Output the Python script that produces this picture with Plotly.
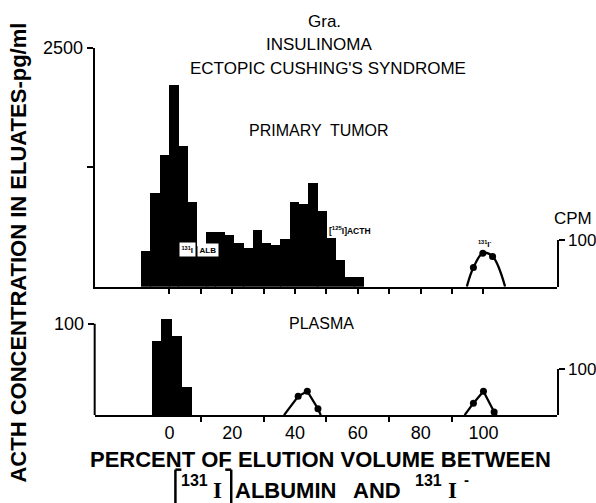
import plotly.graph_objects as go

W, H = 596, 503

# ---------------- data ----------------
# Primary tumor: ACTH (pg/ml) per eluate fraction (% elution volume, bin centres)
tumor_x = [-7.5, -4.6, -1.6, 1.3, 4.3, 7.2, 10.2, 13.1, 16.1, 19.0, 22.0, 24.9,
           27.9, 30.8, 33.8, 36.7, 39.7, 42.6, 45.6, 48.5, 51.5, 54.4, 57.4, 60.3]
tumor_acth = [377, 980, 1378, 2110, 1475, 889, 430, 578, 578, 544, 463, 405,
              593, 463, 439, 499, 889, 865, 1085, 800, 510, 280, 105, 105]

# Plasma: ACTH (pg/ml)
plasma_x = [-4.0, -1.0, 2.2, 5.3]
plasma_acth = [81, 105, 86, 30]

# 131I- marker counts (CPM), primary tumor run
tumor_cpm_x = [94.7, 96.8, 99.8, 102.9, 106.9]
tumor_cpm = [0, 41, 72, 65, 0]

# Plasma run: 125I-ACTH peak and 131I- marker (CPM)
plasma_acthpk_x = [36.5, 41.0, 43.9, 47.3, 48.2]
plasma_acthpk = [0, 41, 52, 14, 0]
plasma_cpm_x = [94.0, 96.8, 100.0, 103.4, 104.2]
plasma_cpm = [0, 26, 52, 7, 0]

x_labels = [0, 20, 40, 60, 80, 100]

# ---------------- layout helpers ----------------
def px(xp):
    return xp / W

def py(yp):
    # pixel row (from top) -> paper fraction, with a small vertical calibration
    yc = (yp - 9.4) / 0.98
    return 1 - yc / H

XDOM = [px(95), px(558.5)]
XRANGE = [-23.8, 123.3]
FONT = "Liberation Sans, Arial, sans-serif"
SERIF = "Liberation Serif, DejaVu Serif, serif"

fig = go.Figure()

fig.add_trace(go.Bar(x=tumor_x, y=tumor_acth, width=3.08, marker=dict(color="black", line=dict(width=0)),
                     xaxis="x", yaxis="y", showlegend=False))
fig.add_trace(go.Scatter(x=tumor_cpm_x, y=tumor_cpm, mode="lines", line=dict(color="black", width=2.3, shape="spline", smoothing=1.0),
                         xaxis="x", yaxis="y2", showlegend=False, cliponaxis=False))
fig.add_trace(go.Scatter(x=tumor_cpm_x[1:-1], y=tumor_cpm[1:-1], mode="markers", marker=dict(color="black", size=7),
                         xaxis="x", yaxis="y2", showlegend=False, cliponaxis=False))

fig.add_trace(go.Bar(x=plasma_x, y=plasma_acth, width=3.3, marker=dict(color="black", line=dict(width=0)),
                     xaxis="x2", yaxis="y3", showlegend=False))
for xs, ys in [(plasma_acthpk_x, plasma_acthpk), (plasma_cpm_x, plasma_cpm)]:
    fig.add_trace(go.Scatter(x=xs, y=ys, mode="lines", line=dict(color="black", width=2.3),
                             xaxis="x2", yaxis="y4", showlegend=False, cliponaxis=False))
    fig.add_trace(go.Scatter(x=xs[1:-1], y=ys[1:-1], mode="markers", marker=dict(color="black", size=7),
                             xaxis="x2", yaxis="y4", showlegend=False, cliponaxis=False))

top_base, top_2500 = 286, 47
bot_base, bot_100 = 414.5, 323
bot_top_val = 110
bot_top_px = bot_base - (bot_base - bot_100) * bot_top_val / 100

axis_common = dict(showgrid=False, zeroline=False, linecolor="black", linewidth=2,
                   tickcolor="black", tickwidth=2, fixedrange=True)

fig.update_layout(
    width=W, height=H, autosize=False,
    margin=dict(l=0, r=0, t=0, b=0, pad=0),
    paper_bgcolor="white", plot_bgcolor="rgba(0,0,0,0)",
    bargap=0,
    font=dict(family=FONT, color="black"),
    xaxis=dict(domain=XDOM, range=XRANGE, anchor="y", showline=True, ticks="outside", ticklen=5,
               tickvals=[0, 10, 20, 30, 40, 50, 60, 70, 80, 90, 100], showticklabels=False, **axis_common),
    yaxis=dict(domain=[py(top_base), py(top_2500)], range=[0, 2500], anchor="x", showline=True,
               ticks="outside", ticklen=6, tickvals=[1250, 2500], ticktext=["", "2500"],
               tickfont=dict(size=18), **axis_common),
    yaxis2=dict(domain=[py(top_base), py(239.5)], range=[0, 100], anchor="x", side="right", showline=True,
                ticks="outside", ticklen=6, tickvals=[100], ticktext=["100"], tickfont=dict(size=17), **axis_common),
    xaxis2=dict(domain=XDOM, range=XRANGE, anchor="y3", showline=True, ticks="",
                tickvals=x_labels, ticktext=[str(v) for v in x_labels], tickfont=dict(size=18),
                minor=dict(tickvals=[10, 30, 50, 70, 90], ticks="outside", ticklen=5, tickwidth=2, tickcolor="black"),
                **axis_common),
    yaxis3=dict(domain=[py(bot_base), py(bot_top_px)], range=[0, bot_top_val], anchor="x2", showline=False,
                ticks="outside", ticklen=6, tickvals=[100], ticktext=["100"], tickfont=dict(size=18), **axis_common),
    yaxis4=dict(domain=[py(bot_base), py(368.5)], range=[0, 100], anchor="x2", side="right", showline=True,
                ticks="outside", ticklen=6, tickvals=[100], ticktext=["100"], tickfont=dict(size=17), **axis_common),
)

# left axis line of the plasma panel (0..100 only)
fig.add_shape(type="line", xref="paper", yref="y3", x0=XDOM[0], x1=XDOM[0], y0=0, y1=100,
              line=dict(color="black", width=2))

def ann(x, y, text, size, family=FONT, **kw):
    d = dict(xref="paper", yref="paper", x=px(x), y=py(y), text=text, showarrow=False,
             font=dict(size=size, family=family, color="black"), xanchor="center", yanchor="middle")
    d.update(kw)
    fig.add_annotation(**d)

ann(326, 21, "Gra.", 17)
ann(320, 44, "INSULINOMA", 17)
ann(329, 68, "ECTOPIC CUSHING'S SYNDROME", 17)
ann(320, 130, "PRIMARY  TUMOR", 16)
ann(323, 323, "PLASMA", 16)
ann(575, 218, "CPM", 17)

ann(19, 252, "<b>ACTH CONCENTRATION IN ELUATES-pg/ml</b>", 22, textangle=-90)
ann(322, 459, "<b>PERCENT OF ELUTION VOLUME BETWEEN</b>", 22)

# second line of the x title, assembled piecewise to keep the original spacing
ann(195, 480, "<b>131</b>", 16)
ann(218, 490, "<b>I</b>", 23, family=SERIF)
ann(286, 490, "<b>ALBUMIN</b>", 22)
ann(378, 490, "<b>AND</b>", 22)
ann(430, 480, "<b>131</b>", 16)
ann(454, 490, "<b>I</b>", 23, family=SERIF)
ann(468, 479, "<b>-</b>", 15)
# brackets around 131I
for xb, d in [(176, 1), (232, -1)]:
    fig.add_shape(type="line", xref="paper", yref="paper", x0=px(xb), x1=px(xb), y0=py(469), y1=py(503),
                  line=dict(color="black", width=2.5))
    fig.add_shape(type="line", xref="paper", yref="paper", x0=px(xb), x1=px(xb + 6 * d), y0=py(469), y1=py(469),
                  line=dict(color="black", width=2.5))

# in-plot labels
fig.add_annotation(xref="x", yref="y", x=5.9, y=387, text="<b><sup>131</sup>I</b>", showarrow=False,
                   font=dict(size=8, family=FONT, color="black"), bgcolor="white", borderpad=1.5)
fig.add_annotation(xref="x", yref="y", x=12.4, y=387, text="<b>ALB</b>", showarrow=False,
                   font=dict(size=8, family=FONT, color="black"), bgcolor="white", borderpad=1.5)
fig.add_annotation(xref="x", yref="y", x=50.6, y=586, text="<b>[<sup>125</sup>I]ACTH</b>", showarrow=False,
                   font=dict(size=8.5, family=FONT, color="black"), xanchor="left", bgcolor="white", borderpad=0)
fig.add_annotation(xref="x", yref="y2", x=100.5, y=92, text="<b><sup>131</sup>I<sup>-</sup></b>", showarrow=False,
                   font=dict(size=8, family=FONT, color="black"))

post = ("document.documentElement.style.margin='0';document.body.style.margin='0';"
        "document.body.style.padding='0';document.documentElement.style.overflow='hidden';"
        "document.body.style.overflow='hidden';")
fig.write_html("out.html", config={"displayModeBar": False}, post_script=post)
